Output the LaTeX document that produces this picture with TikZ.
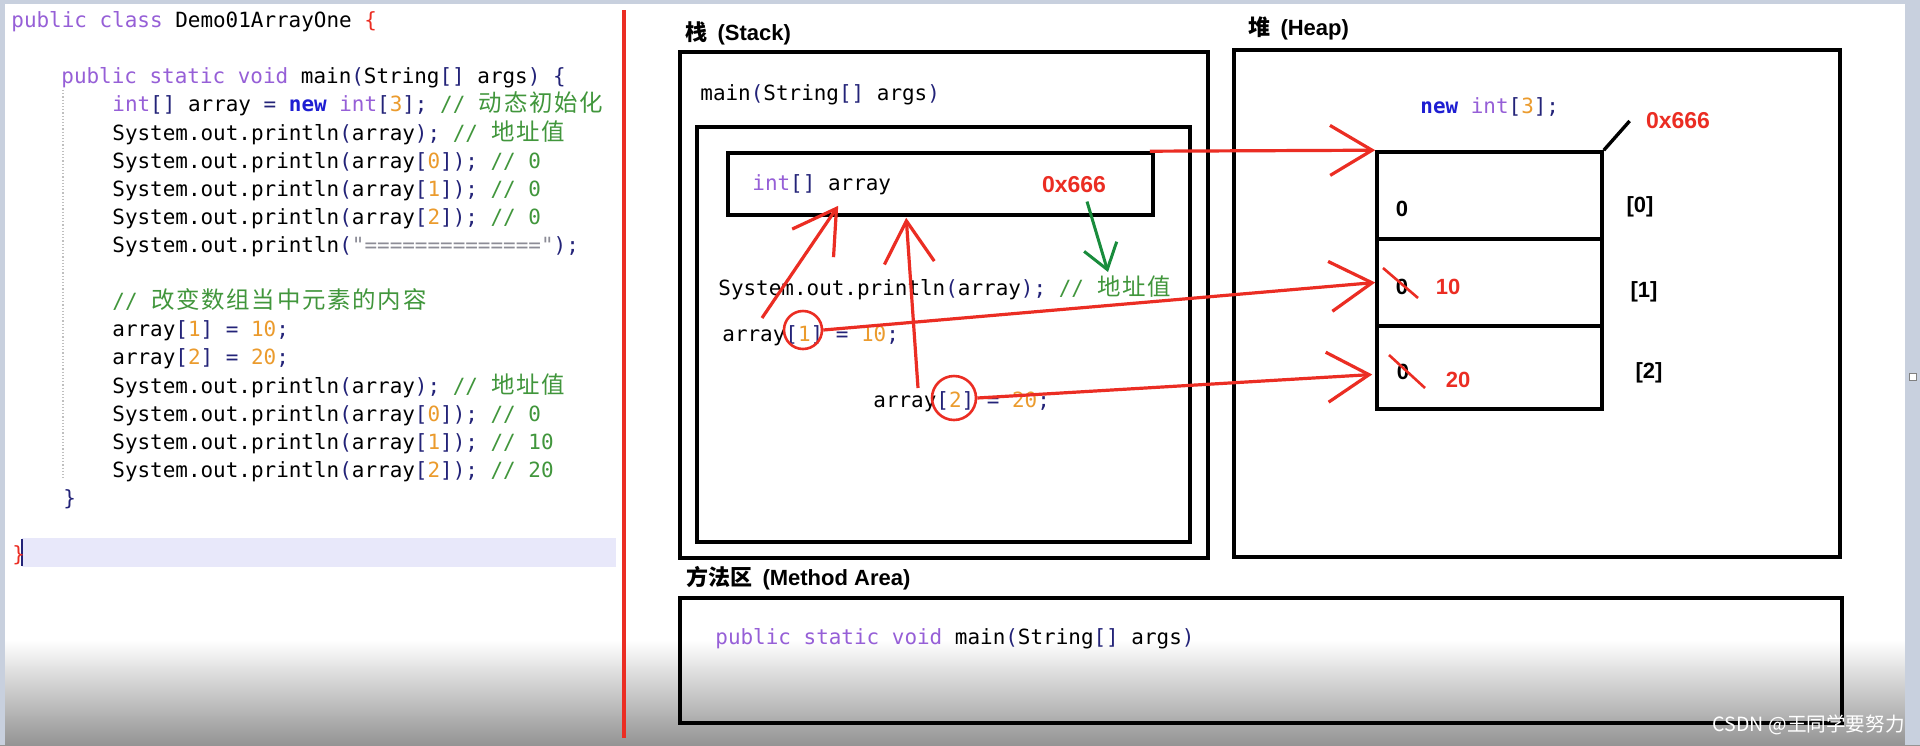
\documentclass[tikz,border=0pt]{standalone}
\usepackage{fontspec}
\setmainfont{Liberation Sans}
\newfontfamily\codefont{DejaVu Sans Mono}
\newfontfamily\cjk{Noto Sans CJK SC}
\newfontfamily\cjkcode{Noto Sans CJK SC}[Scale=1.12]
\usetikzlibrary{arrows.meta, positioning, fit, calc}
\definecolor{kwpurple}{RGB}{150,95,215}
\definecolor{kwblue}{RGB}{30,30,210}
\definecolor{numorange}{RGB}{235,155,45}
\definecolor{brnavy}{RGB}{35,35,120}
\definecolor{cmtgreen}{RGB}{65,150,60}
\definecolor{strgray}{RGB}{140,140,150}
\definecolor{penred}{RGB}{235,45,35}
\definecolor{pengreen}{RGB}{25,140,60}
\definecolor{lineband}{RGB}{232,232,250}
\definecolor{edgeblue}{RGB}{200,208,222}

\newcommand\ckw[1]{\textcolor{kwpurple}{#1}}
\newcommand\cnew[1]{\textcolor{kwblue}{\bfseries #1}}
\newcommand\cnum[1]{\textcolor{numorange}{#1}}
\newcommand\cbr[1]{\textcolor{brnavy}{#1}}
\newcommand\ccm[1]{\textcolor{cmtgreen}{#1}}
\newcommand\cstr[1]{\textcolor{strgray}{#1}}
% chinese chars take two code columns
\newcommand\zh[1]{\zhstep#1\relax}
\def\zhstep#1{\ifx\relax#1\else\makebox[12.6pt]{\cjkcode #1}\expandafter\zhstep\fi}

\begin{document}
\begin{tikzpicture}[x=0.5pt,y=-0.5pt,
    box/.style={draw,line width=1.8pt,inner sep=0pt},
    code/.style={font=\codefont\fontsize{10.47pt}{14pt}\selectfont,anchor=base west,inner sep=0pt},
    lbl/.style={font=\bfseries\fontsize{11pt}{13pt}\selectfont,inner sep=1pt},
    redarrow/.style={draw=penred,line width=1.6pt,-{Straight Barb[length=21pt,width=25pt]}},
    greenarrow/.style={draw=pengreen,line width=1.5pt,-{Straight Barb[length=12pt,width=17pt]}},
    ring/.style={draw=penred,line width=1.3pt,circle,inner sep=0pt}]
  \useasboundingbox (0,0) rectangle (1920,745);
  \fill[white] (0,0) rectangle (1920,745);
  \shade[top color=white,middle color=black!13,bottom color=black!42] (0,640) rectangle (1920,745);
  \fill[edgeblue] (0,0) rectangle (1920,4);
  \fill[edgeblue] (0,0) rectangle (5,745);
  \fill[edgeblue] (1905,0) rectangle (1920,745);
  \draw[gray,fill=white,line width=0.4pt] (1909,373) rectangle (1916,380);

  % editor
  \fill[lineband] (22,538) rectangle (616,567);
  \draw[brnavy,line width=0.8pt] (22,539) -- (22,566);
  \draw[gray!50,densely dotted,line width=0.6pt] (63,90) -- (63,480);
  \node[code] (ln1) at (11,27) {\ckw{public class} Demo01ArrayOne \textcolor{penred}{\{}};
  \node[code] (ln2) at (61,83) {\ckw{public static void} main\cbr{(}String\cbr{[]} args\cbr{)} \cbr{\{}};
  \node[code] (ln3) at (112,111) {\ckw{int}\cbr{[]} array \cbr{=} \cnew{new} \ckw{int}\cbr{[}\cnum{3}\cbr{];} \ccm{// \zh{动态初始化}}};
  \node[code] (ln4) at (112,140) {System.out.println\cbr{(}array\cbr{);} \ccm{// \zh{地址值}}};
  \node[code] (ln5) at (112,168) {System.out.println\cbr{(}array\cbr{[}\cnum{0}\cbr{]);} \ccm{// 0}};
  \node[code] (ln6) at (112,196) {System.out.println\cbr{(}array\cbr{[}\cnum{1}\cbr{]);} \ccm{// 0}};
  \node[code] (ln7) at (112,224) {System.out.println\cbr{(}array\cbr{[}\cnum{2}\cbr{]);} \ccm{// 0}};
  \node[code] (ln8) at (112,252) {System.out.println\cbr{(}\cstr{"=============="}\cbr{);}};
  \node[code] (ln9) at (112,308) {\ccm{// \zh{改变数组当中元素的内容}}};
  \node[code] (ln10) at (112,336) {array\cbr{[}\cnum{1}\cbr{]} \cbr{=} \cnum{10}\cbr{;}};
  \node[code] (ln11) at (112,364) {array\cbr{[}\cnum{2}\cbr{]} \cbr{=} \cnum{20}\cbr{;}};
  \node[code] (ln12) at (112,393) {System.out.println\cbr{(}array\cbr{);} \ccm{// \zh{地址值}}};
  \node[code] (ln13) at (112,421) {System.out.println\cbr{(}array\cbr{[}\cnum{0}\cbr{]);} \ccm{// 0}};
  \node[code] (ln14) at (112,449) {System.out.println\cbr{(}array\cbr{[}\cnum{1}\cbr{]);} \ccm{// 10}};
  \node[code] (ln15) at (112,477) {System.out.println\cbr{(}array\cbr{[}\cnum{2}\cbr{]);} \ccm{// 20}};
  \node[code] (ln16) at (63,505) {\cbr{\}}};
  \node[code] (ln17) at (12,561) {\textcolor{penred}{\}}};
  \draw[penred,line width=1.6pt] (624,10) -- (624,738);

  % stack
  \node[lbl,anchor=west] (stacklbl) at (683,33) {{\cjk 栈}\hspace{2pt} (Stack)};
  \node[box,fit={(680,52) (1208,558)}] (stack) {};
  \node[code] (mainsig) at (700,100) {main\cbr{(}String\cbr{[]} args\cbr{)}};
  \node[box,fit={(697,127) (1190,542)}] (frame) {};
  \node[box,fit={(728,153) (1153,215)}] (arrbox) {};
  \node[code] (vardecl) at (752,190) {\ckw{int}\cbr{[]} array};
  \node[lbl,text=penred,font=\bfseries\fontsize{11.5pt}{13pt}\selectfont] (hex1) at (1074,185) {0x666};
  \node[code] (println) at (718,295) {System.out.println\cbr{(}array\cbr{);} \ccm{// \zh{地址值}}};
  \node[code] (set1) at (722,341) {array\cbr{[}\cnum{1}\cbr{]} \cbr{=} \cnum{10}\cbr{;}};
  \node[code] (set2) at (873,407) {array\cbr{[}\cnum{2}\cbr{]} \cbr{=} \cnum{20}\cbr{;}};
  \node[ring,minimum size=19pt] (ring1) at (803,330) {};
  \node[ring,minimum size=22pt] (ring2) at (954,398) {};

  % heap
  \node[lbl,anchor=west] (heaplbl) at (1246,28) {{\cjk 堆}\hspace{2pt} (Heap)};
  \node[box,fit={(1234,50) (1840,557)}] (heap) {};
  \node[code] (newarr) at (1420,113) {\cnew{new} \ckw{int}\cbr{[}\cnum{3}\cbr{];}};
  \node[box,fit={(1377,152) (1602,239)}] (cell0) {};
  \node[box,fit={(1377,239) (1602,326)}] (cell1) {};
  \node[box,fit={(1377,326) (1602,409)}] (cell2) {};
  \node[lbl,text=penred,font=\bfseries\fontsize{11.5pt}{13pt}\selectfont] (hex2) at (1678,121) {0x666};
  \draw[line width=1.7pt] (cell0.north east) -- ($(hex2.west)+(-14,0)$);
  \node[lbl] (z0) at (1402,209) {0};
  \node[lbl] (z1) at (1402,287) {0};
  \node[lbl] (z2) at (1403,372) {0};
  \node[lbl,text=penred] (v1) at (1448,287) {10};
  \node[lbl,text=penred] (v2) at (1458,380) {20};
  \node[lbl] (idx0) at (1640,207) {[0]};
  \node[lbl] (idx1) at (1644,292) {[1]};
  \node[lbl] (idx2) at (1649,373) {[2]};
  \draw[penred,line width=1.3pt] ($(z1)+(-19,-19)$) -- ($(z1)+(16,11)$);
  \draw[penred,line width=1.3pt] ($(z2)+(-14,-17)$) -- ($(z2)+(22,16)$);

  % method area
  \node[lbl,anchor=west] (methodlbl) at (684,578) {{\cjk 方法区}\hspace{2pt} (Method Area)};
  \node[box,fit={(680,598) (1842,723)}] (method) {};
  \node[code] (msig) at (715,644) {\ckw{public static void} main\cbr{(}String\cbr{[]} args\cbr{)}};

  % arrows
  \coordinate (up1) at (762,318);
  \coordinate (up2) at (918,388);
  \coordinate (gtip) at (1108,272);
  \draw[redarrow] (up1) -- ($(arrbox.south west)+(112,-11)$);
  \draw[redarrow] (up2) -- ($(arrbox.south west)+(180,1)$);
  \draw[redarrow] ($(arrbox.north east)+(-5,0)$) -- (cell0.north west);
  \draw[redarrow] (ring1.east) -- (cell1.west);
  \draw[redarrow] (ring2.east) -- ($(cell2.west)+(-3,7)$);
  \draw[greenarrow] ($(hex1.south)+(13,6)$) -- (gtip);

  \node[anchor=east,inner sep=0pt,text=white,font=\cjk\fontsize{9.8pt}{11pt}\selectfont] (mark) at (1905,725) {CSDN @王同学要努力};
\end{tikzpicture}
\end{document}
